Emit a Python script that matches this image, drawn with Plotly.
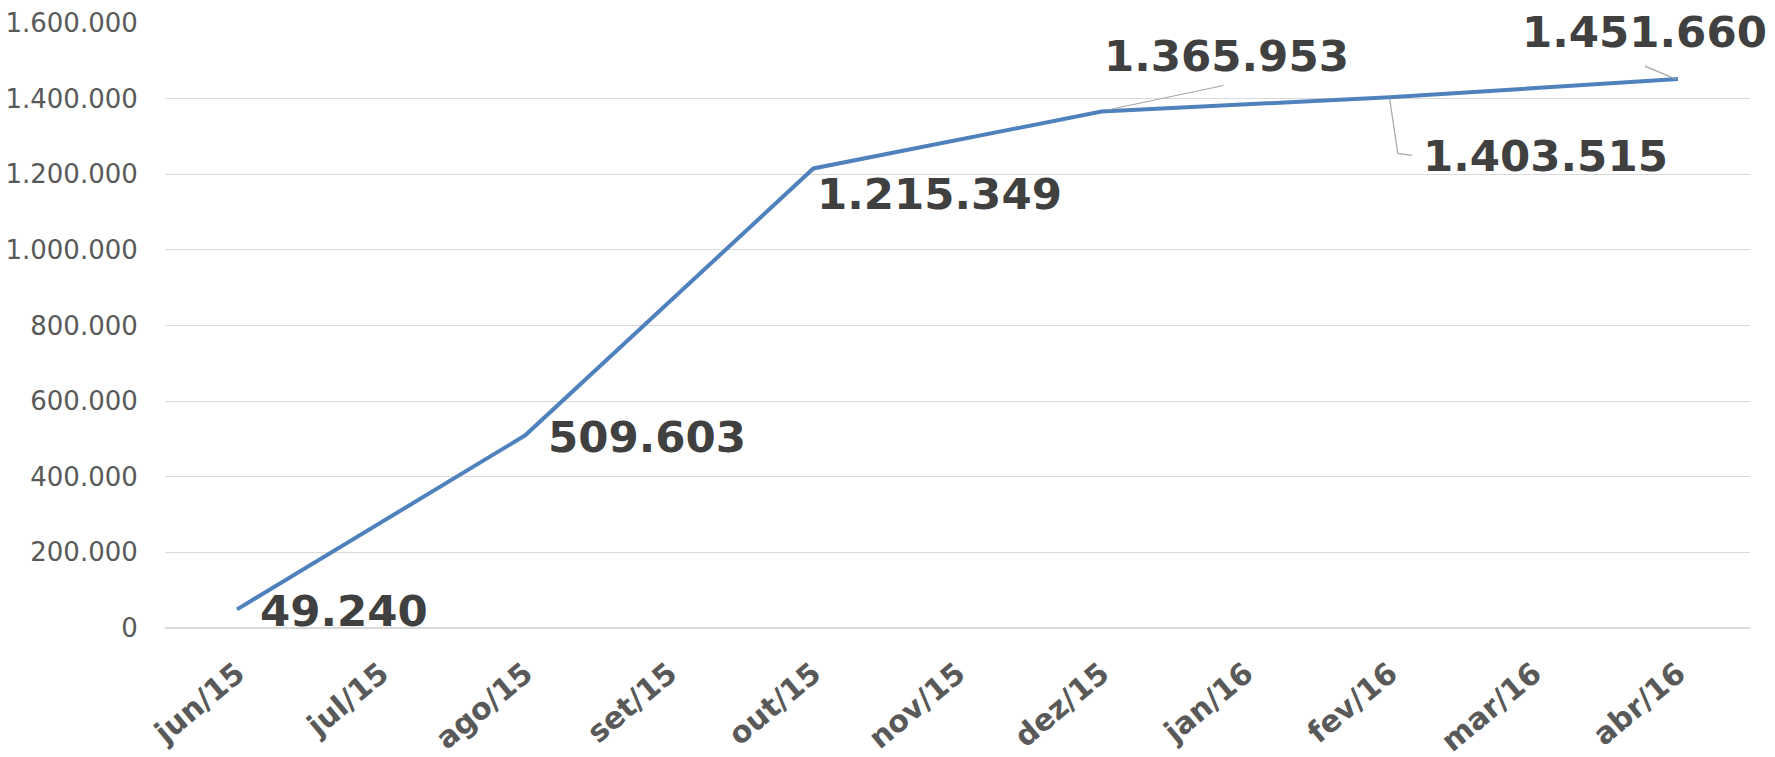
import plotly.graph_objects as go

months = ["jun/15", "jul/15", "ago/15", "set/15", "out/15", "nov/15",
          "dez/15", "jan/16", "fev/16", "mar/16", "abr/16"]
values = [49240, None, 509603, None, 1215349, None,
          1365953, None, 1403515, None, 1451660]
y_ticks = [0, 200000, 400000, 600000, 800000, 1000000, 1200000, 1400000, 1600000]


def fmt(v):
    return f"{v:,}".replace(",", ".")


fig = go.Figure()
fig.add_trace(go.Scatter(
    x=months, y=values, mode="lines", connectgaps=True,
    line=dict(color="#4F81BD", width=4), hoverinfo="skip", showlegend=False,
))

# label placement per point: (xanchor, xshift, yshift)
label_pos = {
    "jun/15": ("left", 21, -2),
    "ago/15": ("left", 21, -2),
    "out/15": ("left", 2, -26),
    "dez/15": ("center", 125, 56),
    "fev/16": ("left", 31, -59),
    "abr/16": ("center", -33, 47),
}
for m, v in zip(months, values):
    if v is None:
        continue
    xa, xs, ys = label_pos[m]
    fig.add_annotation(
        x=m, y=v, text=fmt(v), showarrow=False, xanchor=xa, yanchor="middle",
        xshift=xs, yshift=ys,
        font=dict(family="DejaVu Sans", size=43.5, color="#404040", weight="bold"),
    )

# leader lines (pixel offsets anchored on the data points)
leaders = {
    "dez/15": [((8, 2), (122, 26))],
    "abr/16": [((-33, 13), (-2, 0))],
    "fev/16": [((0, -2), (8, -56)), ((8, -56), (22, -58))],
}
for m, segs in leaders.items():
    v = values[months.index(m)]
    for (x0, y0), (x1, y1) in segs:
        fig.add_shape(
            type="line", xref="x", yref="y", xsizemode="pixel", ysizemode="pixel",
            xanchor=m, yanchor=v, x0=x0, y0=y0, x1=x1, y1=y1,
            line=dict(color="#A6A6A6", width=1.2),
        )

fig.update_layout(
    width=1775, height=757,
    margin=dict(l=165, r=25, t=23, b=129, autoexpand=False),
    paper_bgcolor="white", plot_bgcolor="white",
    separators=",.",
    font=dict(family="DejaVu Sans", color="#595959"),
)
fig.update_xaxes(
    type="category", categoryorder="array", categoryarray=months,
    range=[-0.5, len(months) - 0.5], automargin=False,
    tickangle=-40, tickfont=dict(size=30, color="#595959", weight="bold"),
    showgrid=False, showline=False, zeroline=False,
    ticks="outside", ticklen=15, tickcolor="rgba(0,0,0,0)",
)
fig.update_yaxes(
    range=[0, 1600000], tickvals=y_ticks, ticktext=[fmt(t) for t in y_ticks],
    automargin=False,
    tickfont=dict(size=26, color="#595959"),
    showgrid=True, gridcolor="#D9D9D9", gridwidth=1,
    zeroline=True, zerolinecolor="#D9D9D9", zerolinewidth=1.5,
    showline=False, ticks="outside", ticklen=21, tickcolor="rgba(0,0,0,0)",
)

fig.write_html(
    "out.html",
    config={"displayModeBar": False},
    post_script="document.body.style.margin='0';document.body.style.overflow='hidden';",
)
